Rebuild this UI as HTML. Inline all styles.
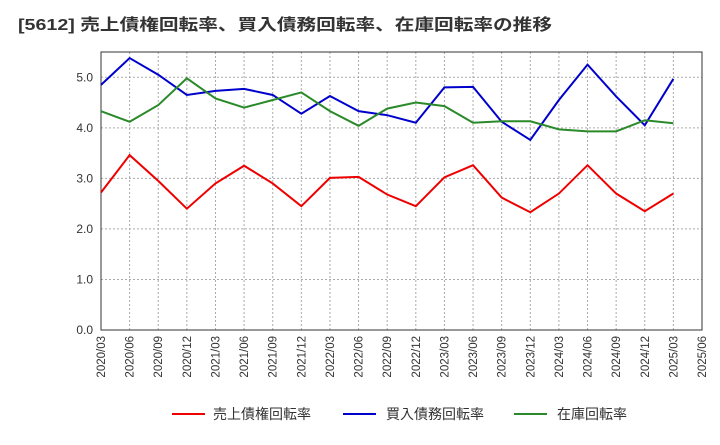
<!DOCTYPE html>
<html><head><meta charset="utf-8"><style>
body{margin:0;background:#fff;font-family:"Liberation Sans","Noto Sans CJK JP",sans-serif}
</style></head><body>
<svg id="chart" width="720" height="440" xmlns="http://www.w3.org/2000/svg" font-family="Liberation Sans, Noto Sans CJK JP, sans-serif">
<text x="18" y="30" font-size="16" font-weight="bold" fill="#333" textLength="534" lengthAdjust="spacingAndGlyphs">[5612]  売上債権回転率、買入債務回転率、在庫回転率の推移</text>
<g id="grid"></g><g id="axes"></g><g id="series"></g>
<g font-size="14" fill="#333">
<line x1="172" y1="414" x2="205" y2="414" stroke="#e00" stroke-width="2"/><text x="213" y="419">売上債権回転率</text>
<line x1="343" y1="414" x2="376" y2="414" stroke="#00c" stroke-width="2"/><text x="386" y="419">買入債務回転率</text>
<line x1="514" y1="414" x2="547" y2="414" stroke="#2a8a2a" stroke-width="2"/><text x="557" y="419">在庫回転率</text>
</g>
</svg>
<script>
const labels=["2020/03","2020/06","2020/09","2020/12","2021/03","2021/06","2021/09","2021/12","2022/03","2022/06","2022/09","2022/12","2023/03","2023/06","2023/09","2023/12","2024/03","2024/06","2024/09","2024/12","2025/03","2025/06"];
const yTicks=[0,1,2,3,4,5];
const red=[2.72,3.46,2.95,2.40,2.90,3.25,2.90,2.45,3.01,3.03,2.68,2.45,3.02,3.26,2.62,2.33,2.70,3.26,2.70,2.35,2.70];
const blue=[4.85,5.38,5.05,4.65,4.73,4.77,4.65,4.28,4.63,4.33,4.25,4.10,4.80,4.81,4.12,3.76,4.55,5.25,4.62,4.05,4.97];
const green=[4.33,4.12,4.45,4.98,4.58,4.40,4.55,4.70,4.33,4.04,4.38,4.50,4.43,4.10,4.13,4.13,3.97,3.93,3.93,4.15,4.09];
const L=101,R=702,T=52,B=330,ymax=5.5;
const xs=i=>L+i*(R-L)/(labels.length-1);
const ys=v=>B-v/ymax*(B-T);
const NS="http://www.w3.org/2000/svg";
function mk(tag,attrs,parent){const e=document.createElementNS(NS,tag);for(const k in attrs)e.setAttribute(k,attrs[k]);document.getElementById(parent).appendChild(e);return e;}
const fr=mk('rect',{x:L,y:T,width:R-L,height:B-T,fill:'none',stroke:'#333'},'axes');


yTicks.forEach(t=>{
 const g=mk('line',{x1:L,x2:R,y1:ys(t),y2:ys(t),stroke:'#aaa','stroke-dasharray':'2,2'},'grid');
 
 
 const tx=mk('text',{x:L-8,y:ys(t)+4,'text-anchor':'end','font-size':12,fill:'#333'},'axes');
 tx.textContent=t.toFixed(1);
 
 
});
labels.forEach((lb,i)=>{
 if(i>0&&i<labels.length-1){const g=mk('line',{x1:xs(i),x2:xs(i),y1:T,y2:B,stroke:'#aaa','stroke-dasharray':'2,2'},'grid');
 
 }
 const tx=mk('text',{transform:`translate(${xs(i)+4},${B+6}) rotate(-90)`,'text-anchor':'end','font-size':11.5,fill:'#333'},'axes');
 tx.textContent=lb;
 
 
});
[[red,'#e00','receivables-turnover-line'],[blue,'#00c','payables-turnover-line'],[green,'#2a8a2a','inventory-turnover-line']].forEach(([d,c,n])=>{
 const p=mk('polyline',{points:d.map((v,i)=>xs(i)+','+ys(v)).join(' '),fill:'none',stroke:c,'stroke-width':2},'series');
 
 
});
</script>
</body></html>
